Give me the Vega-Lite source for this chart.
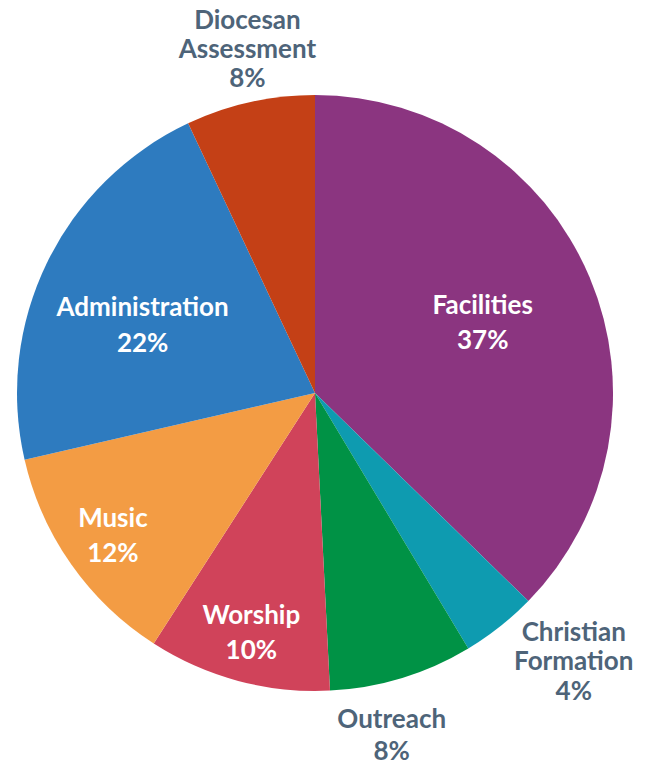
{
  "$schema": "https://vega.github.io/schema/vega-lite/v6.json",
  "autosize": "none",
  "width": 630,
  "height": 742,
  "padding": {"left": 0, "top": 22, "right": 16, "bottom": 0},
  "background": "white",
  "view": {"stroke": null},
  "data": {
    "values": [
      {"order": 1, "name": "Facilities", "value": 37.3, "label": "Facilities\n37%"},
      {"order": 2, "name": "Christian Formation", "value": 4.1, "label": "Christian\nFormation\n4%"},
      {"order": 3, "name": "Outreach", "value": 7.8, "label": "Outreach\n8%"},
      {"order": 4, "name": "Worship", "value": 9.9, "label": "Worship\n10%"},
      {"order": 5, "name": "Music", "value": 12.3, "label": "Music\n12%"},
      {"order": 6, "name": "Administration", "value": 21.6, "label": "Administration\n22%"},
      {"order": 7, "name": "Diocesan Assessment", "value": 7.0, "label": "Diocesan\nAssessment\n8%"}
    ]
  },
  "encoding": {
    "theta": {"field": "value", "type": "quantitative", "stack": true},
    "order": {"field": "order", "type": "quantitative"}
  },
  "layer": [
    {
      "mark": {"type": "arc", "outerRadius": 298},
      "encoding": {
        "color": {
          "field": "name",
          "type": "nominal",
          "legend": null,
          "scale": {
            "domain": ["Facilities", "Christian Formation", "Outreach", "Worship", "Music", "Administration", "Diocesan Assessment"],
            "range": ["#8B3580", "#0E9BB0", "#009245", "#D0435A", "#F39C44", "#2E7BBF", "#C44016"]
          }
        }
      }
    },
    {
      "mark": {"type": "text", "radius": 182, "dy": -16, "font": "Lato", "fontWeight": "bold", "fontSize": 26, "lineHeight": 35, "lineBreak": "\n", "color": "white", "align": "center", "baseline": "middle"},
      "encoding": {"text": {"condition": {"test": "datum.name === 'Facilities'", "field": "label"}, "value": ""}}
    },
    {
      "mark": {"type": "text", "radius": 185, "dx": -6, "dy": -4, "font": "Lato", "fontWeight": "bold", "fontSize": 26, "lineHeight": 36, "lineBreak": "\n", "color": "white", "align": "center", "baseline": "middle"},
      "encoding": {"text": {"condition": {"test": "datum.name === 'Administration'", "field": "label"}, "value": ""}}
    },
    {
      "mark": {"type": "text", "radius": 247, "dy": -16, "font": "Lato", "fontWeight": "bold", "fontSize": 26, "lineHeight": 35, "lineBreak": "\n", "color": "white", "align": "center", "baseline": "middle"},
      "encoding": {"text": {"condition": {"test": "datum.name === 'Music' || datum.name === 'Worship'", "field": "label"}, "value": ""}}
    },
    {
      "mark": {"type": "text", "radius": 351, "dx": 9, "dy": -29, "font": "Lato", "fontWeight": "bold", "fontSize": 26, "lineHeight": 29, "lineBreak": "\n", "color": "#4E6479", "align": "center", "baseline": "middle"},
      "encoding": {"text": {"condition": {"test": "datum.name === 'Diocesan Assessment'", "field": "label"}, "value": ""}}
    },
    {
      "mark": {"type": "text", "radius": 372, "dx": 28, "dy": -52, "font": "Lato", "fontWeight": "bold", "fontSize": 26, "lineHeight": 29.5, "lineBreak": "\n", "color": "#4E6479", "align": "center", "baseline": "middle"},
      "encoding": {"text": {"condition": {"test": "datum.name === 'Christian Formation'", "field": "label"}, "value": ""}}
    },
    {
      "mark": {"type": "text", "radius": 346, "dx": -24, "dy": -4, "font": "Lato", "fontWeight": "bold", "fontSize": 26, "lineHeight": 32, "lineBreak": "\n", "color": "#4E6479", "align": "center", "baseline": "middle"},
      "encoding": {"text": {"condition": {"test": "datum.name === 'Outreach'", "field": "label"}, "value": ""}}
    }
  ]
}
